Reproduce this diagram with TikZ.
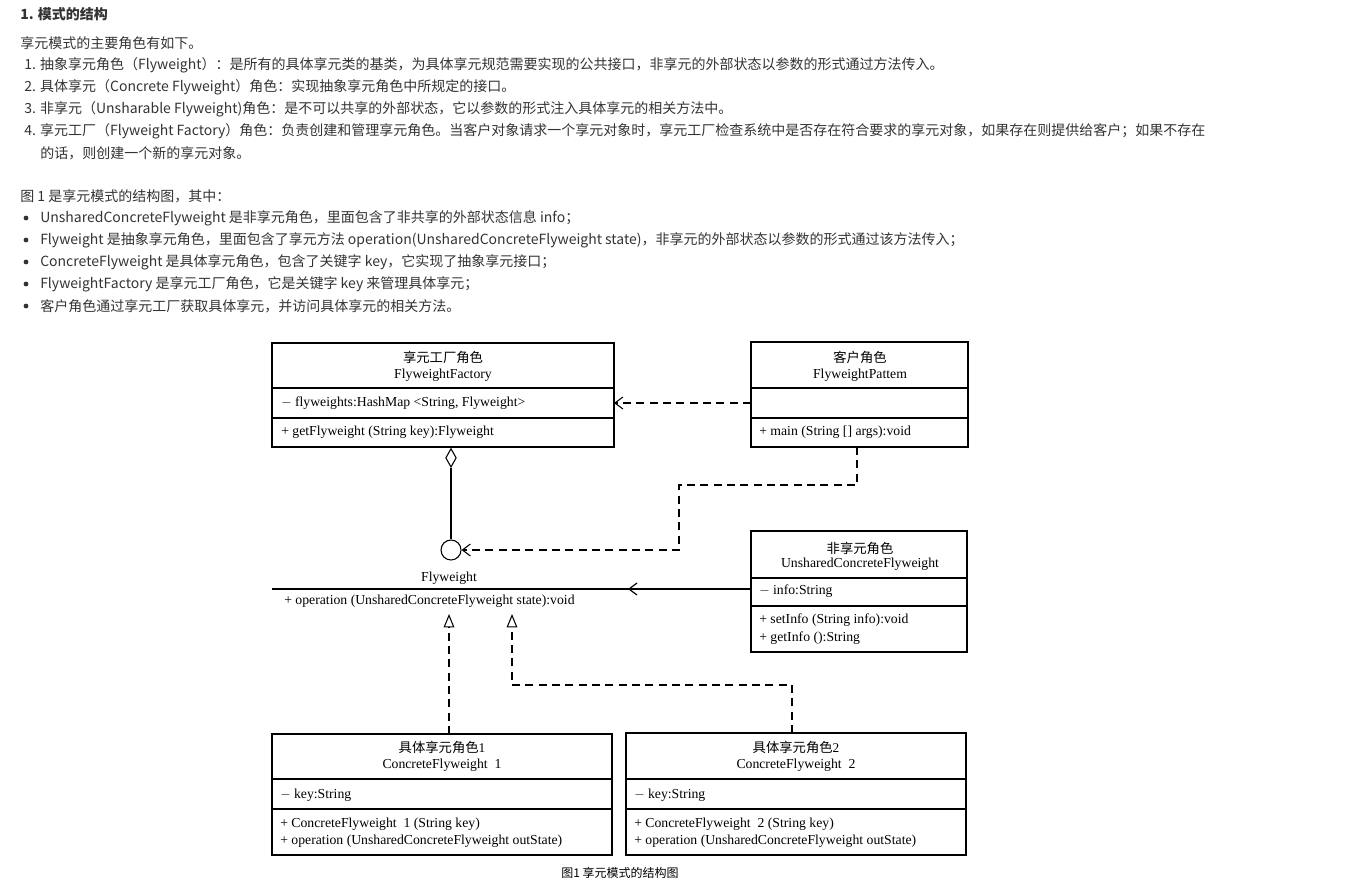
\documentclass[tikz,border=0pt]{standalone}
\usepackage{fontspec}
\setmainfont{Noto Sans CJK SC}
\newfontfamily\ser{Liberation Serif}
\newfontfamily\cjk{Noto Sans CJK SC}
\usetikzlibrary{arrows.meta,shapes.geometric}
\begin{document}
\begin{tikzpicture}[x=0.75pt,y=-0.75pt,
 tl/.style={anchor=west,inner sep=0,font=\fontsize{10.5}{12}\selectfont,text=black!80},
 dt/.style={inner sep=0,font=\ser\fontsize{10.3}{11}\selectfont},
 dc/.style={inner sep=0,font=\cjk\fontsize{10}{11}\selectfont},
 box/.style={draw,line width=0.9pt},
 dsh/.style={dash pattern=on 6pt off 4pt,line width=0.8pt},
 oa/.style={-{Straight Barb[length=6pt,width=9pt]}},
 tri/.style={-{Triangle[open,length=10pt,width=8pt]}}]
\useasboundingbox (0,0) rectangle (1360,878);
% top text
\node[tl,font=\bfseries\fontsize{10.5}{12}\selectfont] (h) at (20,14) {1. 模式的结构};
\node[tl] (t0) at (20,43) {享元模式的主要角色有如下。};
\node[tl] (t1) at (24,65) {1. 抽象享元角色（Flyweight）：是所有的具体享元类的基类，为具体享元规范需要实现的公共接口，非享元的外部状态以参数的形式通过方法传入。};
\node[tl] (t2) at (24,87) {2. 具体享元（Concrete Flyweight）角色：实现抽象享元角色中所规定的接口。};
\node[tl] (t3) at (24,109) {3. 非享元（Unsharable Flyweight)角色：是不可以共享的外部状态，它以参数的形式注入具体享元的相关方法中。};
\node[tl] (t4) at (24,131) {4. 享元工厂（Flyweight Factory）角色：负责创建和管理享元角色。当客户对象请求一个享元对象时，享元工厂检查系统中是否存在符合要求的享元对象，如果存在则提供给客户；如果不存在};
\node[tl] (t5) at (40,153) {的话，则创建一个新的享元对象。};
\node[tl] (t6) at (20,196) {图 1 是享元模式的结构图，其中：};
\foreach \y/\s in {218/{UnsharedConcreteFlyweight 是非享元角色，里面包含了非共享的外部状态信息 info；},
 240/{Flyweight 是抽象享元角色，里面包含了享元方法 operation(UnsharedConcreteFlyweight state)，非享元的外部状态以参数的形式通过该方法传入；},
 262/{ConcreteFlyweight 是具体享元角色，包含了关键字 key，它实现了抽象享元接口；},
 284/{FlyweightFactory 是享元工厂角色，它是关键字 key 来管理具体享元；},
 306/{客户角色通过享元工厂获取具体享元，并访问具体享元的相关方法。}}{
 \fill[black!80] (26,\y) circle (2.4);
 \node[tl] at (40,\y) {\s};}
% factory
\draw[box] (272,343) rectangle (614,447);
\draw[box] (272,388)--(614,388) (272,418)--(614,418);
\node[dc] (fa) at (443,357) {享元工厂角色};
\node[dt] at (443,375) {FlyweightFactory};
\node[dt,anchor=west] at (281,403) {$-$ flyweights:HashMap <String, Flyweight>};
\node[dt,anchor=west] at (281,432) {+ getFlyweight (String key):Flyweight};
\coordinate (fr) at (614,403);
% client
\draw[box] (751,342) rectangle (968,447);
\draw[box] (751,388)--(968,388) (751,418)--(968,418);
\node[dc] at (860,357) {客户角色};
\node[dt] at (860,375) {FlyweightPattem};
\node[dt,anchor=west] at (759,432) {+ main (String [] args):void};
\coordinate (cl) at (751,403);
\coordinate (cb) at (857,447);
\draw[dsh,oa] (cl)--(fr);
% aggregation
\node[draw,line width=0.8pt,circle,inner sep=0,minimum size=15pt] (c) at (451,550) {};
\node[draw,line width=0.8pt,diamond,inner sep=0,minimum width=8pt,minimum height=14pt,anchor=north] (d) at (451,448) {};
\draw[line width=0.8pt] (d.south)--(c.north);
\draw[dsh,oa] (cb)--(857,485)--(679,485)--(679,550)--(c.east);
% flyweight
\node[dt] (fw) at (449,578) {Flyweight};
\draw[line width=0.9pt] (272,589)--(630,589);
\node[dt,anchor=west] at (284,601) {+ operation (UnsharedConcreteFlyweight state):void};
\coordinate (fa1) at (449,614);
\coordinate (fa2) at (512,614);
\coordinate (fl) at (628,589);
% unshared
\draw[box] (751,531) rectangle (967,652);
\draw[box] (751,578)--(967,578) (751,606)--(967,606);
\node[dc] at (860,548) {非享元角色};
\node[dt] at (860,564) {UnsharedConcreteFlyweight};
\node[dt,anchor=west] at (759,591) {$-$ info:String};
\node[dt,anchor=west] at (759,620) {+ setInfo (String info):void};
\node[dt,anchor=west] at (759,638) {+ getInfo ():String};
\draw[line width=0.9pt,oa] (751,589)--(fl);
% CF1
\draw[box] (272,734) rectangle (612,855);
\draw[box] (272,779)--(612,779) (272,809)--(612,809);
\node[dc] at (442,747) {具体享元角色\ser 1};
\node[dt] at (442,765) {ConcreteFlyweight\ \ 1};
\node[dt,anchor=west] at (280,795) {$-$ key:String};
\node[dt,anchor=west] at (280,824) {+ ConcreteFlyweight\ \ 1 (String key)};
\node[dt,anchor=west] at (280,841) {+ operation (UnsharedConcreteFlyweight outState)};
% CF2
\draw[box] (626,733) rectangle (966,855);
\draw[box] (626,779)--(966,779) (626,809)--(966,809);
\node[dc] at (796,747) {具体享元角色\ser 2};
\node[dt] at (796,765) {ConcreteFlyweight\ \ 2};
\node[dt,anchor=west] at (634,795) {$-$ key:String};
\node[dt,anchor=west] at (634,824) {+ ConcreteFlyweight\ \ 2 (String key)};
\node[dt,anchor=west] at (634,841) {+ operation (UnsharedConcreteFlyweight outState)};
\draw[dsh,tri] (449,734)--(fa1);
\draw[dsh,tri] (792,733)--(792,685)--(512,685)--(fa2);
\node[dc,font=\cjk\fontsize{9}{10}\selectfont] (cap) at (620,873) {图1 享元模式的结构图};
\end{tikzpicture}
\end{document}
